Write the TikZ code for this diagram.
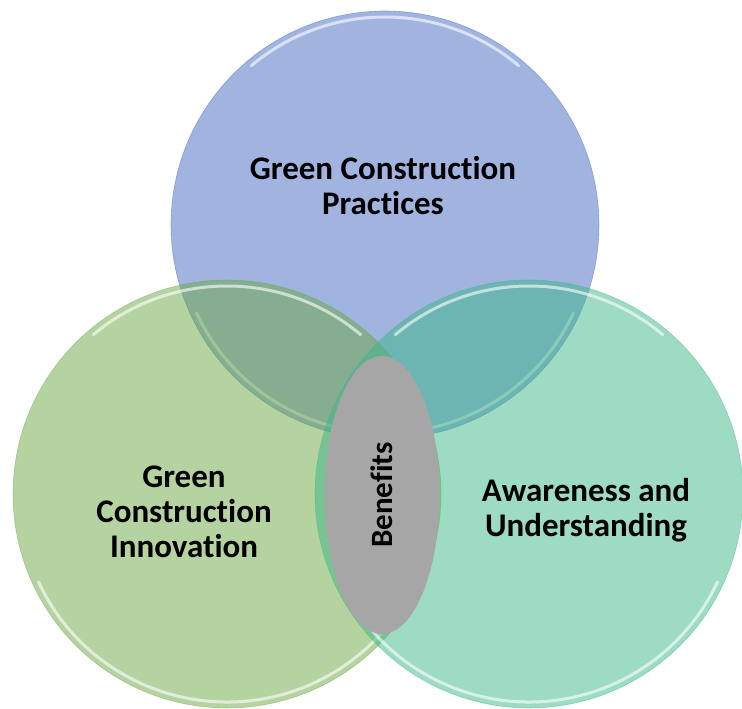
\documentclass[tikz,border=0pt]{standalone}
\usepackage{fontspec}
\setmainfont{Carlito}[Ligatures=NoCommon]
\usetikzlibrary{shapes.geometric}
\definecolor{vBlue}{HTML}{4369BF}
\definecolor{vGreen}{HTML}{6BA741}
\definecolor{vTeal}{HTML}{3BB787}
\definecolor{vGray}{HTML}{A6A6A6}

\begin{document}
\begin{tikzpicture}[x=1pt,y=1pt,
  set/.style={circle,minimum size=428pt,inner sep=0pt,fill=#1,fill opacity=0.5,
    draw=#1,draw opacity=0.45,line width=0.6pt},
  rim/.style={white,line width=3pt,opacity=0.6,line cap=round},
  lbl/.style={font=\bfseries\fontsize{33}{35}\selectfont,align=center,text=black}]
  \useasboundingbox (0,0) rectangle (742,709);
  % ---- Practices (top) ----
  \node[set=vBlue] (practices) at (385,484) {};
  \draw[rim] ([shift={(50:208pt)}]practices.center) arc (50:130:208pt);
  \draw[rim] ([shift={(205:208pt)}]practices.center) arc (205:335:208pt);
  % ---- Innovation (left) ----
  \node[set=vGreen] (innovation) at (227,215) {};
  \draw[rim] ([shift={(50:208pt)}]innovation.center) arc (50:130:208pt);
  \draw[rim] ([shift={(205:208pt)}]innovation.center) arc (205:335:208pt);
  % ---- Awareness (right) ----
  \node[set=vTeal] (awareness) at (529,215) {};
  \draw[rim] ([shift={(50:208pt)}]awareness.center) arc (50:130:208pt);
  \draw[rim] ([shift={(205:208pt)}]awareness.center) arc (205:335:208pt);
  % ---- Benefits (centre) ----
  \node[ellipse,fill=vGray,minimum width=115pt,minimum height=278pt,inner sep=0pt]
    (benefits) at (382,214) {};
  % ---- labels ----
  \node[lbl] (practicesText) at (383,523) {Green Construction\\Practices};
  \node[lbl] (innovationText) at (184,197) {Green\\Construction\\Innovation};
  \node[lbl] (awarenessText) at (586,199) {Awareness and\\Understanding};
  \node[lbl,font=\bfseries\fontsize{31}{35}\selectfont,rotate=90] (benefitsText)
    at (benefits.center) {Benefits};
\end{tikzpicture}
\end{document}
